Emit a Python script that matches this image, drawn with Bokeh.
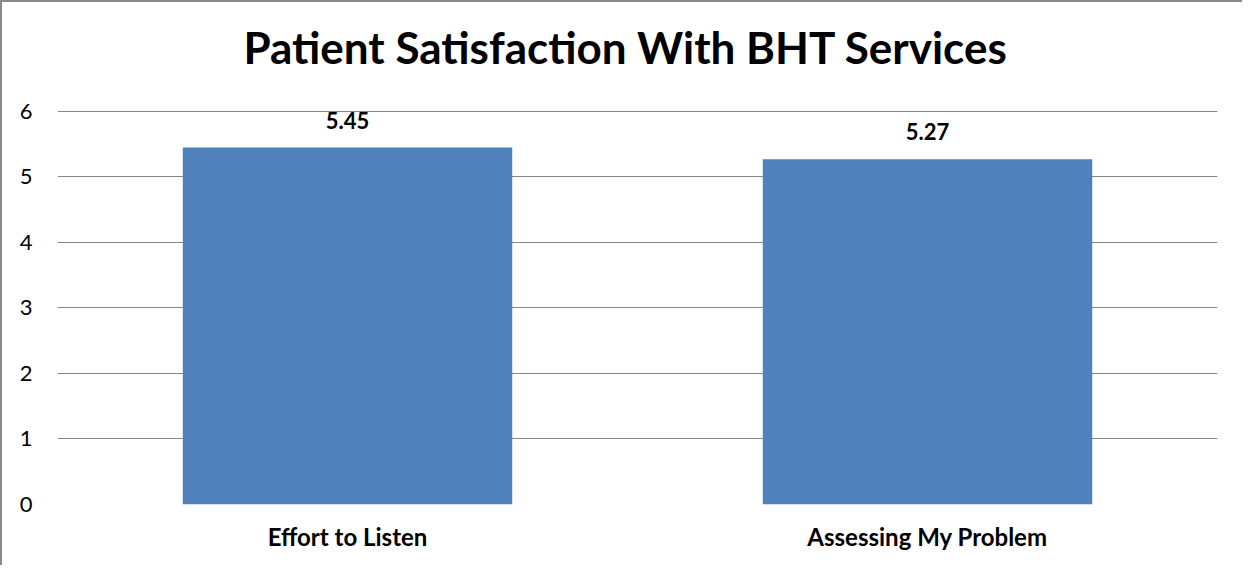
from bokeh.plotting import figure
from bokeh.models import Range1d, ColumnDataSource, LabelSet, FixedTicker, Label
from bokeh.core.properties import value
from bokeh.embed import file_html
from bokeh.resources import INLINE

categories = ["Effort to Listen", "Assessing My Problem"]
scores = [5.45, 5.27]
score_labels = ["5.45", "5.27"]
y_ticks = [0, 1, 2, 3, 4, 5, 6]
title_text = "Patient Satisfaction With BHT Services"

FONT = "Lato"
BAR = "#4F81BD"
GRID = "#868686"

src = ColumnDataSource(dict(cat=categories, val=scores, lab=score_labels))

# frame extends to the top of the figure so the title can sit inside it
p = figure(x_range=categories, y_range=Range1d(0, 7.664), width=1242, height=565,
           output_backend="svg", toolbar_location=None,
           min_border_left=55, min_border_right=27, min_border_top=0, min_border_bottom=63)
p.styles = {"border-left": "2px solid #8a8a8a", "border-top": "2px solid #8a8a8a", "box-sizing": "border-box"}

p.vbar(x="cat", top="val", width=0.568, source=src, color=BAR, line_color=None)
p.add_layout(LabelSet(x="cat", y="val", text="lab", source=src, text_align="center",
                      text_baseline="bottom", y_offset=19, text_font=value(FONT),
                      text_font_style="bold", text_font_size="22px", text_color="#000000"))

p.add_layout(Label(x=0.98, y=6.99, text=title_text,
                   text_align="center", text_baseline="middle", text_font=FONT,
                   text_font_style="bold", text_font_size="44px", text_color="#000000"))

p.outline_line_color = None
p.background_fill_color = "white"
p.xgrid.grid_line_color = None
p.ygrid.grid_line_color = GRID
p.ygrid.grid_line_width = 1
p.yaxis.ticker = FixedTicker(ticks=y_ticks)
for ax in (p.xaxis[0], p.yaxis[0]):
    ax.axis_line_color = None
    ax.major_tick_line_color = None
    ax.minor_tick_line_color = None
    ax.major_label_text_font = FONT
    ax.major_label_text_color = "#000000"
p.yaxis.major_label_text_font_size = "22px"
p.xaxis.major_label_text_font_size = "24px"
p.xaxis.major_label_text_font_style = "bold"
p.xaxis.major_label_standoff = 11
p.yaxis.major_label_standoff = 19
p.x_range.range_padding = 0.0

open("out.html", "w").write(file_html(p, INLINE))
